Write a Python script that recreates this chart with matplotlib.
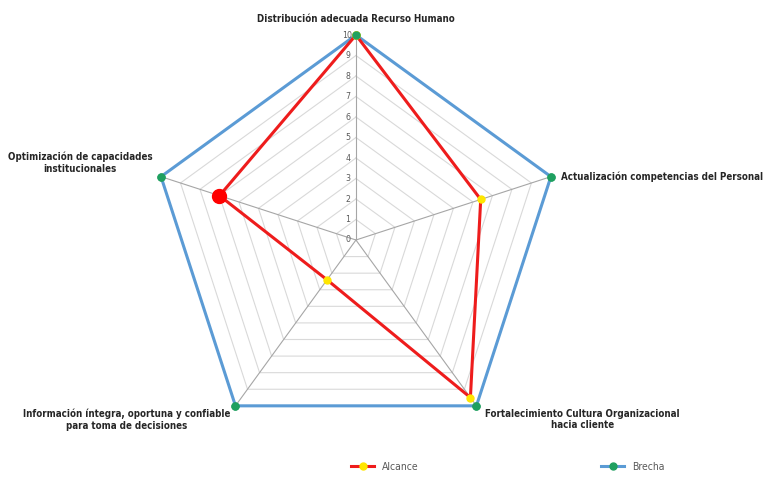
import numpy as np
import matplotlib.pyplot as plt

categorias = [
    "Distribución adecuada Recurso Humano",
    "Actualización competencias del Personal",
    "Fortalecimiento Cultura Organizacional\nhacia cliente",
    "Información íntegra, oportuna y confiable\npara toma de decisiones",
    "Optimización de capacidades\ninstitucionales",
]
alcance = [10, 6.4, 9.5, 2.4, 7.0]
brecha = [10, 10, 10, 10, 10]
ticks = list(range(0, 11))

n = len(categorias)
ang = np.linspace(0, 2 * np.pi, n, endpoint=False)
ang_c = np.append(ang, ang[0])

fig = plt.figure(figsize=(7.64, 4.8), dpi=100)
ax = fig.add_axes([0.1976, 0.0729, 0.5366, 0.8542], projection="polar")
ax.set_theta_zero_location("N")
ax.set_theta_direction(-1)
ax.set_ylim(0, 10)
ax.grid(False)
ax.spines["polar"].set_visible(False)
ax.set_xticks([])
ax.set_yticks([])
ax.patch.set_alpha(0)

# rejilla pentagonal
for t in ticks[1:]:
    ax.plot(ang_c, [t] * (n + 1), color="#d9d9d9", lw=0.8, zorder=1, clip_on=False)
for a in ang:
    ax.plot([a, a], [0, 10], color="#a6a6a6", lw=0.8, zorder=1)

ax.plot(ang_c, np.append(brecha, brecha[0]), color="#5b9bd5", lw=2.2, zorder=3, label="Brecha",
        marker="o", ms=5, mfc="#1fa060", mec="#1fa060", clip_on=False)
ax.plot(ang_c, np.append(alcance, alcance[0]), color="#ee1c1c", lw=2.2,
        marker="o", ms=5, mfc="#ffe600", mec="#ffe600", zorder=4, label="Alcance", clip_on=False)
ax.plot(ang, brecha, "o", ms=5, color="#1fa060", zorder=6, clip_on=False)
# punto destacado
ax.plot(ang[4], alcance[4], "o", ms=10, color="#ff0000", zorder=5)

for t in ticks:
    ax.annotate(str(t), xy=(0, t), xytext=(-6, 0), textcoords="offset points",
                ha="center", va="center", fontsize=6.3, color="#595959",
                fontstretch="condensed")

fnt = dict(fontsize=7, fontweight="bold", color="#262626",
           fontstretch="condensed", multialignment="center")
offs = [((0, 8), "center", "bottom"),
        ((7, 0), "left", "center"),
        ((6, -2), "left", "top"),
        ((-4, -2), "right", "top"),
        ((-6, 2), "right", "bottom")]
for a, lab, (off, ha, va) in zip(ang, categorias, offs):
    ax.annotate(lab, xy=(a, 10), xytext=off, textcoords="offset points",
                ha=ha, va=va, **fnt)

h, l = ax.get_legend_handles_labels()
fig.legend(h[::-1], l[::-1], loc="center", bbox_to_anchor=(0.665, 0.027), ncol=2,
           frameon=False, columnspacing=17.5, handlelength=2.2,
           prop={"size": 7.5, "stretch": "condensed"},
           labelcolor="#595959")

fig.savefig("out.png", dpi=100)
